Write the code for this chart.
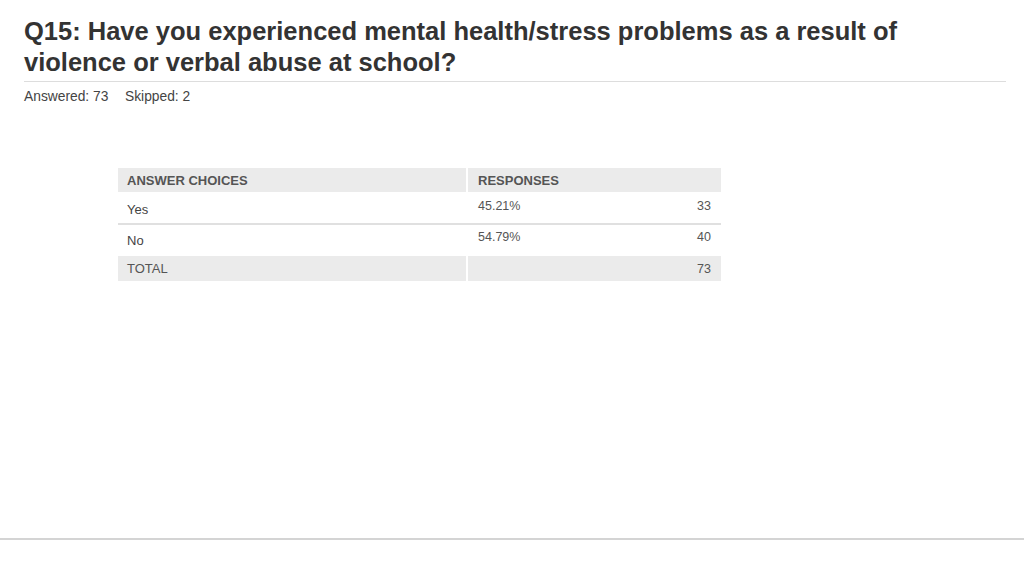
<!DOCTYPE html>
<html>
<head>
<meta charset="utf-8">
<script src="https://cdn.jsdelivr.net/npm/d3@7"></script>
<style>
	body { margin: 0; background: #fff; }
	svg { display: block; font-family: 'Liberation Sans', Arial, Helvetica, sans-serif; }
</style>
</head>
<body>
<div id="chart"></div>
<script>
const titleLines = [
	'Q15: Have you experienced mental health/stress problems as a result of',
	'violence or verbal abuse at school?',
];
const answered = 73;
const skipped = 2;

const headers = ['ANSWER CHOICES', 'RESPONSES'];
const choices = ['Yes', 'No'];
const percents = [45.21, 54.79];
const counts = [33, 40];
const total = 73;

const width = 1024;
const height = 576;

const svg = d3
	.select('#chart')
	.append('svg')
	.attr('width', width)
	.attr('height', height);

// Title block
svg.append('g')
	.selectAll('text')
	.data(titleLines)
	.enter()
	.append('text')
	.attr('x', 24)
	.attr('y', (d, i) => 40 + i * 31)
	.attr('fill', '#333')
	.attr('font-size', 25.5)
	.attr('font-weight', 'bold')
	.text(d => d);

svg.append('line')
	.attr('x1', 24)
	.attr('x2', 1006)
	.attr('y1', 81.5)
	.attr('y2', 81.5)
	.attr('stroke', '#ddd');

const meta = svg.append('g').attr('font-size', 13.8).attr('fill', '#444');
meta.append('text').attr('x', 24).attr('y', 101).text(`Answered: ${answered}`);
meta.append('text').attr('x', 125).attr('y', 101).text(`Skipped: ${skipped}`);

svg.append('line')
	.attr('x1', 0)
	.attr('x2', width)
	.attr('y1', 539)
	.attr('y2', 539)
	.attr('stroke', '#d4d4d4')
	.attr('stroke-width', 2);

// Table
const left = 118;
const right = 721;
const split = 467;

const rowScale = d3
	.scaleBand()
	.domain(choices)
	.range([193, 255])
	.paddingInner(0);

const table = svg.append('g').attr('font-size', 13);

// header
table.append('rect')
	.attr('x', left).attr('y', 168)
	.attr('width', split - left - 1).attr('height', 24)
	.attr('fill', '#ebebeb');
table.append('rect')
	.attr('x', split + 1).attr('y', 168)
	.attr('width', right - split - 1).attr('height', 24)
	.attr('fill', '#ebebeb');
table.selectAll('text.header')
	.data(headers)
	.enter()
	.append('text')
	.attr('class', 'header')
	.attr('x', (d, i) => (i === 0 ? left + 9 : split + 11))
	.attr('y', 185)
	.attr('font-weight', 'bold')
	.attr('fill', '#555')
	.attr('font-size', 13)
	.text(d => d);

// data rows
const rows = table.selectAll('g.row')
	.data(choices)
	.enter()
	.append('g')
	.attr('class', 'row')
	.attr('transform', d => `translate(0,${rowScale(d)})`);

rows.append('text')
	.attr('x', left + 9)
	.attr('y', 21)
	.attr('fill', '#444')
	.text(d => d);

rows.append('text')
	.attr('x', split + 11)
	.attr('y', 17)
	.attr('fill', '#555')
	.attr('font-size', 12.5)
	.text((d, i) => `${percents[i].toFixed(2)}%`);

rows.append('text')
	.attr('x', right - 10)
	.attr('y', 17)
	.attr('text-anchor', 'end')
	.attr('fill', '#555')
	.attr('font-size', 12.5)
	.text((d, i) => counts[i]);

rows.filter((d, i) => i < choices.length - 1)
	.append('rect')
	.attr('x', left)
	.attr('y', rowScale.bandwidth() - 1)
	.attr('width', right - left)
	.attr('height', 2)
	.attr('fill', '#e0e0e0');

// total row
table.append('rect')
	.attr('x', left).attr('y', 256)
	.attr('width', split - left - 1).attr('height', 25)
	.attr('fill', '#ebebeb');
table.append('rect')
	.attr('x', split + 1).attr('y', 256)
	.attr('width', right - split - 1).attr('height', 25)
	.attr('fill', '#ebebeb');
table.append('text')
	.attr('x', left + 9)
	.attr('y', 273)
	.attr('fill', '#555')
	.text('TOTAL');
table.append('text')
	.attr('x', right - 10)
	.attr('y', 273)
	.attr('text-anchor', 'end')
	.attr('fill', '#555')
	.attr('font-size', 12.5)
	.text(total);
</script>
</body>
</html>
